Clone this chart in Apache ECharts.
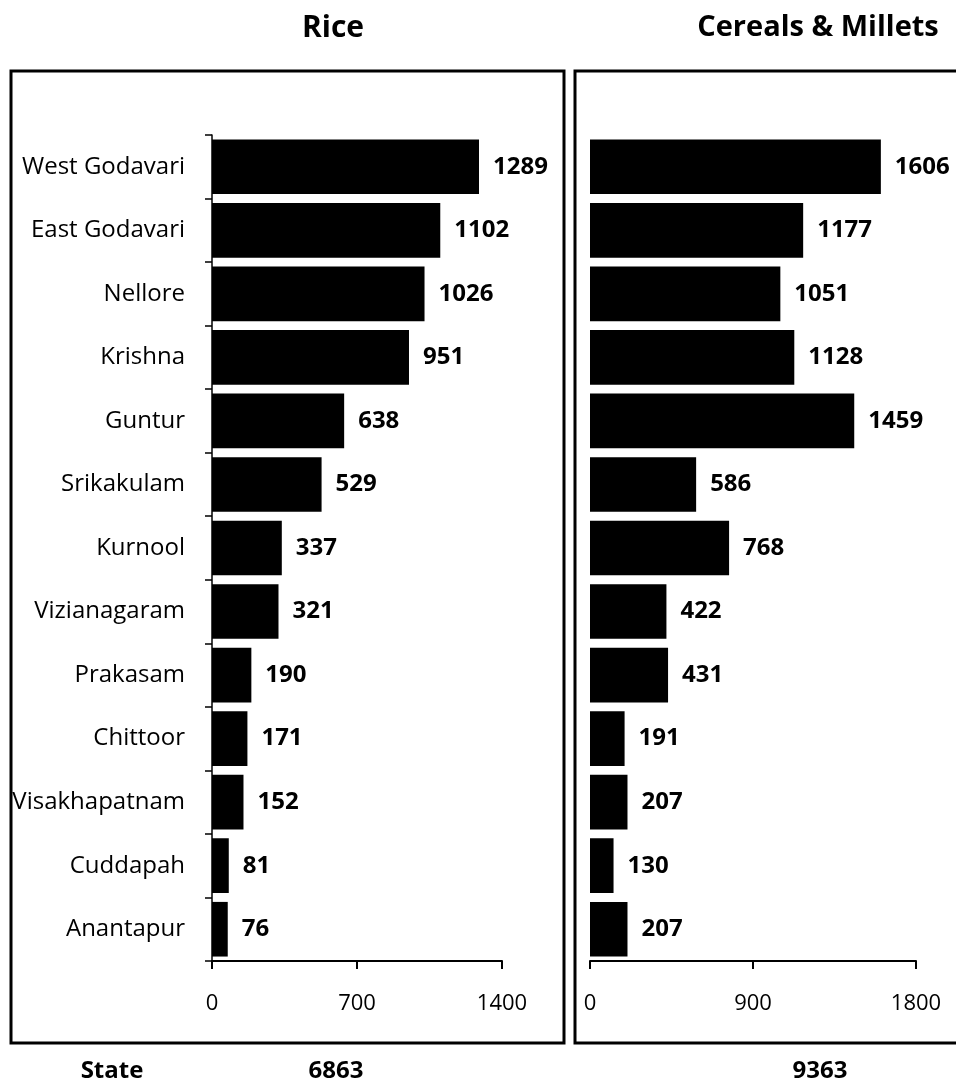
<!DOCTYPE html>
<html>
<head>
<meta charset="utf-8">
<script src="https://cdn.jsdelivr.net/npm/echarts@6/dist/echarts.min.js"></script>
<style>
html,body{margin:0;padding:0;background:#fff;}
#chart{width:956px;height:1086px;}
</style>
</head>
<body>
<div id="chart"></div>
<script>
const districts = ['West Godavari','East Godavari','Nellore','Krishna','Guntur','Srikakulam','Kurnool','Vizianagaram','Prakasam','Chittoor','Visakhapatnam','Cuddapah','Anantapur'];
const riceValues = [1289,1102,1026,951,638,529,337,321,190,171,152,81,76];
const cerealValues = [1606,1177,1051,1128,1459,586,768,422,431,191,207,130,207];
const panelTitles = ['Rice','Cereals & Millets'];
const stateLabel = 'State';
const stateTotals = [6863, 9363];
const riceTicks = {min:0, max:1400, interval:700};
const cerealTicks = {min:0, max:1800, interval:900};

const FONT = '"Open Sans", sans-serif';
const chart = echarts.init(document.getElementById('chart'));

function xAxis(gi, t){
  return {
    type:'value', gridIndex:gi, min:t.min, max:t.max, interval:t.interval,
    splitLine:{show:false},
    axisLine:{show:true, lineStyle:{color:'#000', width:2}},
    axisTick:{show:true, inside:false, length:8, lineStyle:{color:'#000', width:2}},
    axisLabel:{color:'#000', fontFamily:FONT, fontSize:22, margin:32, formatter:function(v){return String(v);}}
  };
}
function yAxis(gi, showLine){
  return {
    type:'category', gridIndex:gi, data:districts, inverse:true,
    axisLine:{show:showLine, lineStyle:{color:'#000', width:1.5}},
    axisTick:{show:showLine, inside:false, length:7, lineStyle:{color:'#000', width:1.5}},
    axisLabel:{show:gi===0, color:'#000', fontFamily:FONT, fontSize:24, margin:27}
  };
}
function barSeries(gi, vals){
  return {
    type:'bar', xAxisIndex:gi, yAxisIndex:gi, data:vals,
    barCategoryGap:'14%',
    itemStyle:{color:'#000'},
    label:{show:true, position:'right', distance:14, color:'#000', fontFamily:FONT, fontWeight:'bold', fontSize:24},
    silent:true
  };
}

chart.setOption({
  animation:false,
  backgroundColor:'#fff',
  title:[
    {text:panelTitles[0], left:328, top:8, textAlign:'center', textStyle:{fontFamily:FONT, fontWeight:'bold', fontSize:30, color:'#000'}},
    {text:panelTitles[1], left:813, top:8, textAlign:'center', textStyle:{fontFamily:FONT, fontWeight:'bold', fontSize:29, color:'#000'}},
    {text:stateLabel, left:107, top:1054, textAlign:'center', textStyle:{fontFamily:FONT, fontWeight:'bold', fontSize:24, color:'#000'}},
    {text:String(stateTotals[0]), left:331, top:1054, textAlign:'center', textStyle:{fontFamily:FONT, fontWeight:'bold', fontSize:24, color:'#000'}},
    {text:String(stateTotals[1]), left:815, top:1054, textAlign:'center', textStyle:{fontFamily:FONT, fontWeight:'bold', fontSize:24, color:'#000'}}
  ],
  graphic:[
    {type:'rect', shape:{x:11, y:71, width:553, height:972}, style:{fill:null, stroke:'#000', lineWidth:3}, z:100},
    {type:'rect', shape:{x:575, y:71, width:500, height:972}, style:{fill:null, stroke:'#000', lineWidth:3}, z:100}
  ],
  grid:[
    {left:212, width:290, top:135, height:826},
    {left:590, width:326, top:135, height:826}
  ],
  xAxis:[xAxis(0, riceTicks), xAxis(1, cerealTicks)],
  yAxis:[yAxis(0, true), yAxis(1, false)],
  series:[barSeries(0, riceValues), barSeries(1, cerealValues)]
});
</script>
</body>
</html>
